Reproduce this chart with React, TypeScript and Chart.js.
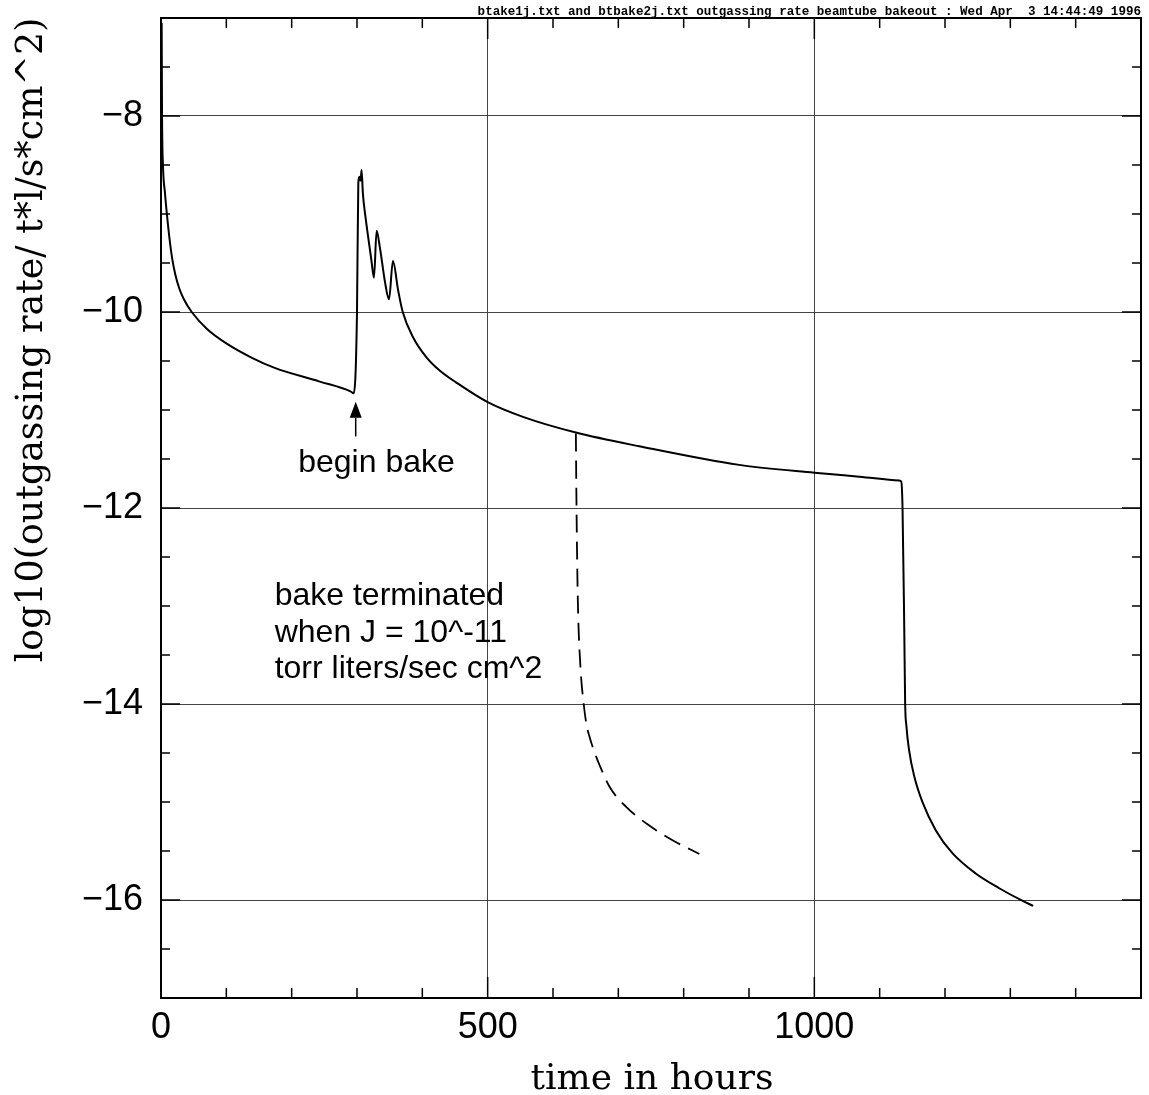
import React, { useEffect, useRef } from "react";
import { Chart, registerables } from "chart.js";

Chart.register(...registerables);

// ---- data (hours, log10 outgassing rate) ----
const bakeHours = [
  1, 1.6, 3, 6, 9, 13, 17, 22, 28, 35, 47, 70, 100, 140, 174, 243, 290, 295, 300, 302, 304, 305.5,
  307, 309, 313, 317, 322, 326, 330, 335, 343, 349, 355, 363, 370, 386, 406, 427, 452, 500, 554,
  635, 732, 885, 1000, 1069, 1130, 1133, 1135, 1137.6, 1139, 1141, 1145, 1153, 1166, 1186, 1211,
  1247, 1283, 1319, 1335,
];
const bakeRate = [
  -7.05, -8.0, -8.5, -8.78, -9.0, -9.25, -9.45, -9.62, -9.76, -9.87, -10.0, -10.17, -10.32,
  -10.47, -10.57, -10.71, -10.81, -10.83, -10.0, -8.69, -8.62, -8.66, -8.55, -8.79, -9.03, -9.23,
  -9.47, -9.65, -9.17, -9.34, -9.7, -9.87, -9.48, -9.78, -10.0, -10.26, -10.46, -10.6, -10.72,
  -10.92, -11.07, -11.23, -11.37, -11.56, -11.64, -11.68, -11.72, -11.73, -12.0, -13.21, -13.99,
  -14.23, -14.47, -14.74, -15.01, -15.29, -15.52, -15.73, -15.88, -16.01, -16.06,
];
const earlyHours = [635, 636, 638, 642, 647, 651, 657, 664, 671, 687, 712, 743, 783, 824];
const earlyRate = [
  -11.24, -12.0, -12.94, -13.62, -14.0, -14.2, -14.36, -14.5, -14.62, -14.85, -15.05, -15.22,
  -15.39, -15.53,
];

const xTickValues = [0, 500, 1000];
const yTickValues = [-16, -14, -12, -10, -8];
const xMinorTicks = [100, 200, 300, 400, 500, 600, 700, 800, 900, 1000, 1100, 1200, 1300, 1400];
const yMinorTicks = [
  -16.5, -16, -15.5, -15, -14.5, -14, -13.5, -13, -12.5, -12, -11.5, -11, -10.5, -10, -9.5, -9,
  -8.5, -8, -7.5,
];

const topTitle =
  "btake1j.txt and btbake2j.txt outgassing rate beamtube bakeout : Wed Apr  3 14:44:49 1996";
const xTitle = "time in hours";
const yTitle = "log10(outgassing rate/ t*l/s*cm^2)";
const beginNote = "begin bake";
const termNote = ["bake terminated", "when J = 10^-11", "torr liters/sec cm^2"];

const W = 1149;
const H = 1095;

function fitSize(
  ctx: CanvasRenderingContext2D,
  text: string,
  weight: string,
  family: string,
  target: number
) {
  ctx.font = weight + " 100px " + family;
  const w = ctx.measureText(text).width;
  return (100 * target) / w;
}

const decorPlugin = {
  id: "decor",
  afterDraw(chart: any) {
    const { ctx, chartArea: a, scales } = chart;
    const x = scales.x;
    const y = scales.y;
    ctx.save();
    ctx.strokeStyle = "#000";
    ctx.fillStyle = "#000";
    ctx.lineWidth = 1.5;
    ctx.beginPath();
    for (const v of xMinorTicks) {
      const px = x.getPixelForValue(v);
      const len = v % 500 === 0 ? 21 : 10;
      ctx.moveTo(px, a.bottom);
      ctx.lineTo(px, a.bottom - len);
      ctx.moveTo(px, a.top);
      ctx.lineTo(px, a.top + len);
    }
    for (const v of yMinorTicks) {
      const py = y.getPixelForValue(v);
      const len = v % 2 === 0 ? 19 : 9;
      ctx.moveTo(a.left, py);
      ctx.lineTo(a.left + len, py);
      ctx.moveTo(a.right, py);
      ctx.lineTo(a.right - len, py);
    }
    ctx.stroke();

    ctx.lineWidth = 2;
    ctx.strokeRect(a.left, a.top, a.right - a.left, a.bottom - a.top);

    // arrow for begin bake
    const ax = x.getPixelForValue(298);
    const tip = y.getPixelForValue(-10.915);
    const base = y.getPixelForValue(-11.08);
    const tail = y.getPixelForValue(-11.27);
    ctx.lineWidth = 1.5;
    ctx.beginPath();
    ctx.moveTo(ax, base);
    ctx.lineTo(ax, tail);
    ctx.stroke();
    ctx.beginPath();
    ctx.moveTo(ax, tip);
    ctx.lineTo(ax - 6, base);
    ctx.lineTo(ax + 6, base);
    ctx.closePath();
    ctx.fill();

    // notes
    ctx.font = '32px "Liberation Sans", Arial, sans-serif';
    ctx.textAlign = "left";
    ctx.textBaseline = "alphabetic";
    ctx.fillText(beginNote, x.getPixelForValue(210), y.getPixelForValue(-11.63));
    const termY = [-12.99, -13.37, -13.73];
    termNote.forEach((t, i) =>
      ctx.fillText(t, x.getPixelForValue(174), y.getPixelForValue(termY[i]))
    );

    // top title
    const mono = '"Liberation Mono", "DejaVu Sans Mono", monospace';
    const ts = fitSize(ctx, topTitle, "bold", mono, 664);
    ctx.font = "bold " + ts.toFixed(2) + "px " + mono;
    ctx.textAlign = "right";
    ctx.fillText(topTitle, a.right, 15);

    // axis titles
    const serif = '"DejaVu Serif", serif';
    const xs = fitSize(ctx, xTitle, "normal", serif, 243);
    ctx.font = "normal " + xs.toFixed(2) + "px " + serif;
    ctx.textAlign = "center";
    ctx.fillText(xTitle, 652, 1089);

    const ys = fitSize(ctx, yTitle, "normal", serif, 645);
    ctx.font = "normal " + ys.toFixed(2) + "px " + serif;
    ctx.translate(42, 340);
    ctx.rotate(-Math.PI / 2);
    ctx.fillText(yTitle, 0, 0);
    ctx.restore();
  },
};

export default function App() {
  const ref = useRef<HTMLCanvasElement | null>(null);
  useEffect(() => {
    if (!ref.current) return;
    const chart = new Chart(ref.current, {
      type: "scatter",
      data: {
        datasets: [
          {
            data: bakeHours.map((h, i) => ({ x: h, y: bakeRate[i] })),
            showLine: true,
            borderColor: "#000",
            borderWidth: 2,
            borderJoinStyle: "round",
            pointRadius: 0,
            cubicInterpolationMode: "monotone",
          },
          {
            data: earlyHours.map((h, i) => ({ x: h, y: earlyRate[i] })),
            showLine: true,
            borderColor: "#000",
            borderWidth: 1.8,
            borderDash: [18, 9],
            pointRadius: 0,
            cubicInterpolationMode: "monotone",
          },
        ],
      },
      options: {
        responsive: false,
        animation: false,
        layout: { padding: { top: 18, right: 8, left: 0, bottom: 0 } },
        plugins: { legend: { display: false }, tooltip: { enabled: false } },
        scales: {
          x: {
            type: "linear",
            min: 0,
            max: 1500,
            afterBuildTicks: (s: any) => {
              s.ticks = xTickValues.map((v) => ({ value: v }));
            },
            afterFit: (s: any) => {
              s.height = 97;
              s.paddingLeft = 0;
              s.paddingRight = 0;
            },
            border: { display: false },
            grid: {
              drawTicks: false,
              lineWidth: 1,
              color: (c: any) =>
                c.tick && (c.tick.value === 500 || c.tick.value === 1000)
                  ? "#444"
                  : "rgba(0,0,0,0)",
            },
            ticks: {
              padding: 8,
              color: "#000",
              font: { family: '"Liberation Sans", Arial, sans-serif', size: 36 },
              callback: (v: any) => String(v),
            },
          },
          y: {
            type: "linear",
            min: -17,
            max: -7,
            afterBuildTicks: (s: any) => {
              s.ticks = yTickValues.map((v) => ({ value: v }));
            },
            afterFit: (s: any) => {
              s.width = 161;
              s.paddingTop = 0;
              s.paddingBottom = 0;
            },
            border: { display: false },
            grid: { drawTicks: false, lineWidth: 1, color: "#444" },
            ticks: {
              padding: 18,
              color: "#000",
              font: { family: '"Liberation Sans", Arial, sans-serif', size: 36 },
              callback: (v: any) => "\u2212" + Math.abs(Number(v)),
            },
          },
        },
      },
      plugins: [decorPlugin],
    });
    return () => chart.destroy();
  }, []);
  return (
    <div
      style={{ position: "absolute", left: 0, top: 0, width: W, height: H, background: "#fff" }}
    >
      <canvas ref={ref} width={W} height={H} style={{ display: "block" }} />
    </div>
  );
}
